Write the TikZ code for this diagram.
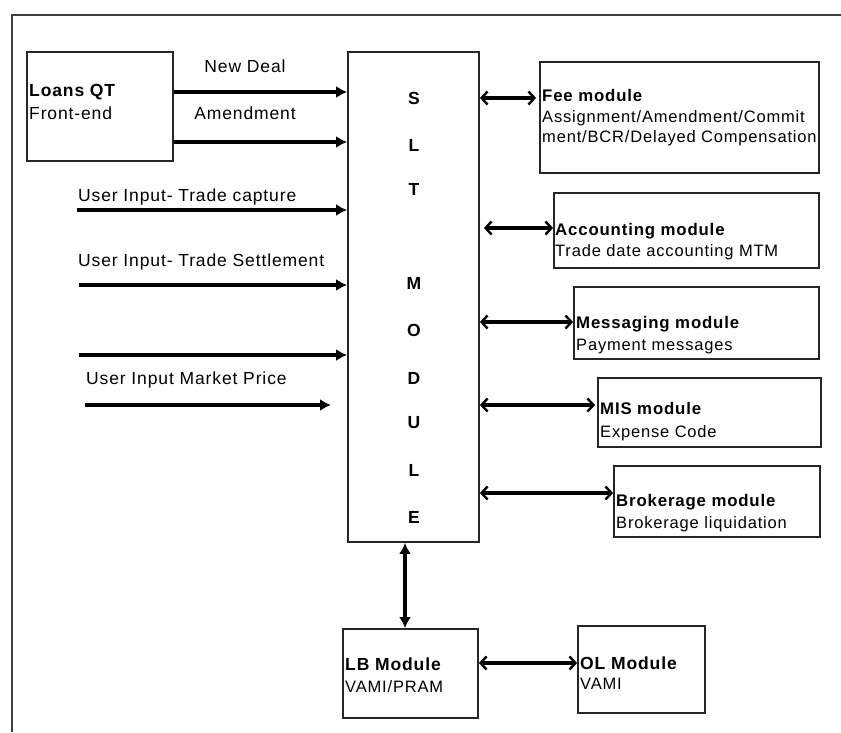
\documentclass[tikz,border=0pt]{standalone}
\usepackage{fontspec}
\setmainfont[LetterSpace=5]{Liberation Sans}
\usetikzlibrary{arrows.meta}
\begin{document}
\begin{tikzpicture}[x=1pt,y=-1pt,
  frame/.style={draw=black!75, line width=2pt},
  box/.style={draw=black!85, line width=1.8pt, inner sep=0pt, rectangle},
  ttl/.style={font=\fontsize{16.8}{19}\selectfont\bfseries, anchor=base west, inner sep=0pt},
  sub/.style={font=\fontsize{16.5}{18}\selectfont, anchor=base west, inner sep=0pt},
  lbl/.style={font=\fontsize{17.5}{19}\selectfont, anchor=base west, inner sep=0pt},
  letter/.style={font=\fontsize{17.5}{19}\selectfont\bfseries, inner sep=0pt},
  inarr/.style={line width=3.4pt, -{Latex[length=11pt,width=12pt]}},
  dblarr/.style={line width=3.2pt, {Straight Barb[length=6pt,width=13pt,line width=2.4pt]}-{Straight Barb[length=6pt,width=13pt,line width=2.4pt]}},
  vdbl/.style={line width=3.4pt, {Latex[length=11pt,width=12pt]}-{Latex[length=11pt,width=12pt]}}]
\useasboundingbox (0,0) rectangle (841,732);
\fill[white] (0,0) rectangle (841,732);
\draw[frame] (12,732) -- (12,15) -- (841,15);

% boxes
\node[box, minimum width=146pt, minimum height=109pt] (loans) at (100,106.5) {};
\node[box, minimum width=131pt, minimum height=490pt] (slt) at (413.5,297) {};
\node[box, minimum width=279pt, minimum height=111pt] (fee) at (679.5,117.5) {};
\node[box, minimum width=265pt, minimum height=75pt] (acc) at (686.5,230.5) {};
\node[box, minimum width=245pt, minimum height=72pt] (msg) at (696.5,323) {};
\node[box, minimum width=223pt, minimum height=69pt] (mis) at (709.5,412.5) {};
\node[box, minimum width=206pt, minimum height=71pt] (brk) at (717,501.5) {};
\node[box, minimum width=135pt, minimum height=89pt] (lb) at (410.5,673.5) {};
\node[box, minimum width=127pt, minimum height=87pt] (ol) at (641.5,669.5) {};

% box texts
\node[ttl, font=\fontsize{17.5}{19}\selectfont\bfseries] (loansT) at (29,96) {Loans QT};
\node[lbl] (loansS) at (29,119) {Front-end};
\begin{scope}
\clip (540,62) rectangle (818,173);
\node[ttl] (feeT) at (542,101) {Fee module};
\node[sub] (feeS1) at (542,122) {Assignment/Amendment/Commit};
\node[sub] (feeS2) at (542,142) {ment/BCR/Delayed Compensation};
\end{scope}
\node[ttl] (accT) at (555,235) {Accounting module};
\node[sub] (accS) at (555,256) {Trade date accounting MTM};
\node[ttl] (msgT) at (576,328) {Messaging module};
\node[sub] (msgS) at (576,350) {Payment messages};
\node[ttl] (misT) at (600,414) {MIS module};
\node[sub] (misS) at (600,437) {Expense Code};
\node[ttl] (brkT) at (616,506) {Brokerage module};
\node[sub] (brkS) at (616,528) {Brokerage liquidation};
\node[ttl, font=\fontsize{17.5}{19}\selectfont\bfseries] (lbT) at (345,670) {LB Module};
\node[sub] (lbS) at (345,692) {VAMI/PRAM};
\node[ttl, font=\fontsize{17.5}{19}\selectfont\bfseries] (olT) at (580,669) {OL Module};
\node[sub] (olS) at (580,689) {VAMI};

% SLT letters
\node[letter] (l1) at (414,98) {S};
\node[letter] (l2) at (414,145) {L};
\node[letter] (l3) at (414,189) {T};
\node[letter] (l4) at (414,283) {M};
\node[letter] (l5) at (414,330) {O};
\node[letter] (l6) at (414,378) {D};
\node[letter] (l7) at (414,423) {U};
\node[letter] (l8) at (414,470) {L};
\node[letter] (l9) at (414,517) {E};

% input labels
\node[lbl, anchor=base] (nd) at (245,72) {New Deal};
\node[lbl, anchor=base] (am) at (245,119) {Amendment};
\node[lbl] (tc) at (78,201) {User Input- Trade capture};
\node[lbl] (ts) at (78,266) {User Input- Trade Settlement};
\node[lbl] (mp) at (86,384) {User Input Market Price};

% helper coordinates
\coordinate (y1) at (0,92);
\coordinate (y2) at (0,142);
\coordinate (s3) at (77,210);
\coordinate (s4) at (79,285);
\coordinate (s5) at (79,355);
\coordinate (s6) at (85,405);
\coordinate (e6) at (331,405);
\coordinate (r1) at (0,98);
\coordinate (r2) at (0,228);
\coordinate (r3) at (0,322);
\coordinate (r4) at (0,405);
\coordinate (r5) at (0,493);
\coordinate (r6) at (0,663);
\coordinate (vx) at (405,0);

% input arrows
\draw[inarr] (loans.east |- y1) -- (slt.west |- y1);
\draw[inarr] (loans.east |- y2) -- (slt.west |- y2);
\draw[inarr] (s3) -- (slt.west |- s3);
\draw[inarr] (s4) -- (slt.west |- s4);
\draw[inarr] (s5) -- (slt.west |- s5);
\draw[inarr] (s6) -- (e6);

% module arrows
\draw[dblarr] (slt.east |- r1) -- ([xshift=-3pt]fee.west |- r1);
\draw[dblarr] ([xshift=4pt]slt.east |- r2) -- (acc.west |- r2);
\draw[dblarr] (slt.east |- r3) -- (msg.west |- r3);
\draw[dblarr] (slt.east |- r4) -- ([xshift=-2pt]mis.west |- r4);
\draw[dblarr] (slt.east |- r5) -- (brk.west |- r5);
\draw[vdbl] (slt.south -| vx) -- (lb.north -| vx);
\draw[dblarr] (lb.east |- r6) -- (ol.west |- r6);
\end{tikzpicture}
\end{document}
